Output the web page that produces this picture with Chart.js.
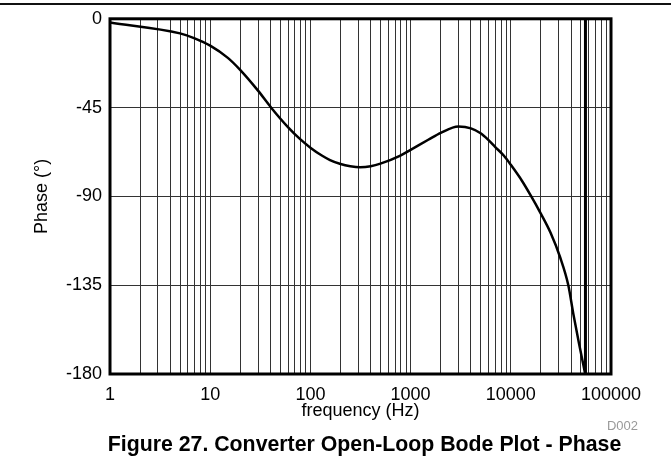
<!DOCTYPE html>
<html>
<head>
<meta charset="utf-8">
<script src="https://cdn.jsdelivr.net/npm/chart.js@4"></script>
<style>
	html, body { margin:0; padding:0; background:#fff; }
	#wrap { position:relative; width:671px; height:474px; overflow:hidden; font-family:"Liberation Sans", Arial, sans-serif; }
	#rule { position:absolute; left:0; top:3px; width:671px; height:2px; background:#111; }
	#chart { position:absolute; left:0; top:0; }
	#code { position:absolute; right:33px; top:418px; font-size:13px; color:#999; }
	#caption { position:absolute; left:0; width:729px; top:432px; text-align:center; font-size:21.3px; font-weight:bold; color:#000; }
</style>
</head>
<body>
<div id="wrap">
	<div id="rule"></div>
	<canvas id="chart" width="671" height="474"></canvas>
	<div id="code">D002</div>
	<div id="caption">Figure 27. Converter Open-Loop Bode Plot - Phase</div>
</div>
<script>
// phase curve (Hz, degrees)
const freqs = [1, 5, 7, 10, 15, 20, 30, 41, 60, 79, 100, 130, 157, 200, 250, 314, 400, 500, 790, 1000, 1500, 2000, 3000, 4000, 5000, 6000, 7000, 8500, 10000, 13000, 16000, 19500, 25000, 31000, 37500, 42000, 48000, 55300];
const phase = [-1.9, -7.4, -9.9, -13.6, -19.8, -26.0, -36.4, -45.3, -55.0, -61.0, -65.3, -69.3, -71.6, -73.6, -74.7, -75.2, -74.7, -73.4, -69.3, -66.4, -61.3, -57.8, -54.6, -55.5, -58.0, -61.5, -65.0, -69.3, -74.0, -82.3, -90.0, -97.8, -108.5, -120.7, -135.0, -149.3, -164.7, -180.0];
// phase wrap: jumps from -180 back up off the top
const wrapFreqs = [55300, 55600];
const wrapPhase = [-180, 180];

const xDecades = [1, 10, 100, 1000, 10000, 100000];
const yTicks = [0, -45, -90, -135, -180];

const FONT = '"Liberation Sans", Arial, sans-serif';

const curve = freqs.map((f, i) => ({x: f, y: phase[i]}));
const wrap = wrapFreqs.map((f, i) => ({x: f, y: wrapPhase[i]}));

// all 1..9 grid positions per decade
const gridVals = [];
xDecades.forEach((d, i) => {
	if (i === xDecades.length - 1) { gridVals.push(d); return; }
	for (let k = 1; k <= 9; k++) gridVals.push(d * k);
});

const frame = {
	id: 'frame',
	afterDraw(chart){
		const {ctx, chartArea:a} = chart;
		ctx.save();
		ctx.strokeStyle = '#000';
		ctx.lineWidth = 3;
		ctx.strokeRect(a.left, a.top, a.right - a.left, a.bottom - a.top);
		ctx.restore();
	}
};

new Chart(document.getElementById('chart'), {
	type: 'line',
	data: {
		datasets: [
			{ data: curve, borderColor: '#000', borderWidth: 2.5, pointRadius: 0, cubicInterpolationMode: 'monotone', fill: false },
			{ data: wrap, borderColor: '#000', borderWidth: 3, pointRadius: 0, tension: 0, fill: false }
		]
	},
	options: {
		responsive: false,
		animation: false,
		layout: { padding: { left: 0, right: 60, top: 18, bottom: 48 } },
		plugins: { legend: { display: false }, tooltip: { enabled: false } },
		scales: {
			x: {
				type: 'logarithmic',
				min: 1, max: 100000,
				afterBuildTicks(scale){ scale.ticks = gridVals.map(v => ({value: v})); },
				afterFit(scale){ scale.height = 52; },
				grid: { color: '#333', lineWidth: 1, drawTicks: false },
				border: { display: false },
				ticks: {
					autoSkip: false, maxRotation: 0, padding: 10,
					color: '#000', font: { family: FONT, size: 18 },
					callback(v){ return xDecades.includes(v) ? String(v) : ''; }
				},
				title: { display: true, text: 'frequency (Hz)', color: '#000', font: { family: FONT, size: 18 }, padding: { top: 0, bottom: 4 } }
			},
			y: {
				min: -180, max: 0,
				afterBuildTicks(scale){ scale.ticks = yTicks.map(v => ({value: v})); },
				afterFit(scale){ scale.width = 110; },
				grid: { color: '#333', lineWidth: 1, drawTicks: false },
				border: { display: false },
				ticks: { padding: 8, color: '#000', font: { family: FONT, size: 18 } },
				title: { display: true, text: 'Phase (°)', color: '#000', font: { family: FONT, size: 18 }, padding: { top: 31, bottom: 0 } }
			}
		}
	},
	plugins: [frame]
});
</script>
</body>
</html>
